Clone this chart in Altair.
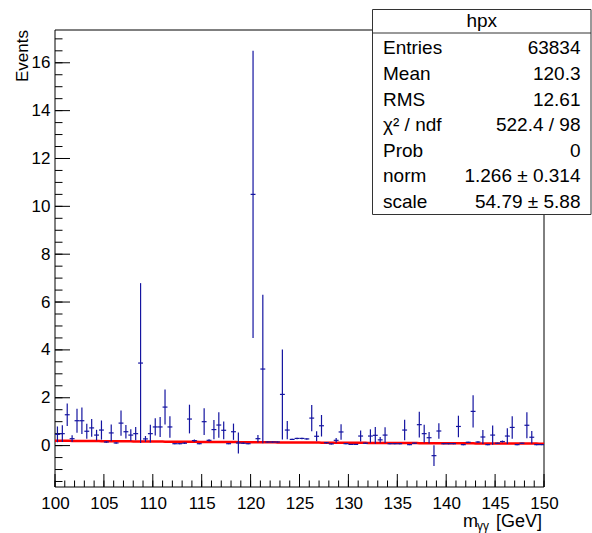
import altair as alt
import numpy as np
import pandas as pd

# ---------------------------------------------------------------------------
# Histogram "hpx": 100 bins of 0.5 GeV between 100 and 150 GeV
# ---------------------------------------------------------------------------
bin_centers = [100.25 + 0.5 * i for i in range(100)]

bin_values = [
    0.47, 0.50, 1.29, 0.29, 1.04, 1.04, 0.60, 0.74, 0.44, 0.65,
    0.15, 0.53, 0.11, 0.94, 0.58, 0.44, 0.50, 3.45, 0.28, 0.50,
    0.78, 0.78, 1.61, 0.78, 0.08, 0.08, 0.10, 1.11, 0.21, 0.08,
    1.00, 0.22, 0.67, 0.86, 0.64, 0.08, 0.58, 0.11, 0.10, 0.08,
    10.50, 0.29, 3.20, 0.15, 0.15, 0.15, 2.14, 0.65, 0.26, 0.30,
    0.30, 0.28, 1.15, 0.39, 0.83, 0.12, 0.07, 0.22, 0.57, 0.08,
    0.05, 0.05, 0.40, 0.10, 0.40, 0.43, 0.24, 0.44, 0.08, 0.08,
    0.08, 0.65, 0.04, 0.10, 0.875, 0.50, 0.33, -0.42, 0.61, 0.08,
    0.08, 0.08, 0.80, 0.04, 0.14, 1.43, 0.15, 0.36, 0.04, 0.44,
    0.10, 0.17, 0.40, 0.76, 0.04, 0.10, 0.85, 0.35, 0.04, 0.04,
]

bin_errors = [
    0.33, 0.35, 0.47, 0.14, 0.50, 0.55, 0.31, 0.37, 0.22, 0.40,
    0.03, 0.35, 0.03, 0.53, 0.28, 0.24, 0.28, 3.34, 0.12, 0.37,
    0.36, 0.42, 0.73, 0.45, 0.02, 0.02, 0.03, 0.60, 0.05, 0.02,
    0.56, 0.05, 0.40, 0.53, 0.37, 0.02, 0.34, 0.44, 0.03, 0.02,
    6.00, 0.15, 3.10, 0.02, 0.02, 0.02, 1.88, 0.38, 0.03, 0.03,
    0.03, 0.03, 0.55, 0.21, 0.45, 0.03, 0.02, 0.10, 0.32, 0.02,
    0.02, 0.02, 0.23, 0.02, 0.28, 0.35, 0.12, 0.33, 0.02, 0.02,
    0.02, 0.43, 0.02, 0.02, 0.54, 0.37, 0.24, 0.43, 0.32, 0.02,
    0.02, 0.02, 0.45, 0.02, 0.02, 0.67, 0.03, 0.29, 0.02, 0.40,
    0.02, 0.04, 0.33, 0.47, 0.02, 0.02, 0.54, 0.26, 0.02, 0.02,
]

# Fit result: norm * exp(-x / scale)
fit_norm = 1.266
fit_scale = 54.79

# Statistics box
stat_title = "hpx"
stat_names = ["Entries", "Mean", "RMS", "χ² / ndf", "Prob", "norm", "scale"]
stat_values = ["63834", "120.3", "12.61", "522.4 / 98", "0",
               "1.266 ± 0.314", "54.79 ± 5.88"]

# Axis ticks
x_major = [100, 105, 110, 115, 120, 125, 130, 135, 140, 145, 150]
x_minor = list(range(100, 151))
y_major = [0, 2, 4, 6, 8, 10, 12, 14, 16]
y_minor = [v / 2 for v in range(-3, 35)]

# ---------------------------------------------------------------------------
W, H = 489, 457
FONT = "Liberation Sans"
BLUE = "#1414a0"
RED = "#ff0000"

x_scale = alt.Scale(domain=[100, 150], nice=False, zero=False)
y_scale = alt.Scale(domain=[-1.73, 17.37], nice=False, zero=False)

x_axis = alt.Axis(values=x_major, title=None, ticks=False, domain=False, grid=False,
                  labelFont=FONT, labelFontSize=17, labelColor="black",
                  labelPadding=8, labelFlush=False, labelOverlap=False)
y_axis = alt.Axis(values=y_major, title=None, ticks=False, domain=False, grid=False,
                  labelFont=FONT, labelFontSize=17, labelColor="black",
                  labelPadding=5, labelFlush=False, labelOverlap=False)

hist = pd.DataFrame({"x": bin_centers, "v": bin_values, "e": bin_errors})

fx = np.linspace(100, 150, 201)
fit = pd.DataFrame({"x": fx, "y": fit_norm * np.exp(-fx / fit_scale)})

one = alt.Data(values=[{}])

# frame
frame = alt.Chart(one).mark_rect(fill=None, stroke="black", strokeWidth=1).encode(
    x=alt.value(0), x2=alt.value(W), y=alt.value(0), y2=alt.value(H))

# inward ticks
xt_major = alt.Chart(pd.DataFrame({"t": x_major})).mark_rule(color="black", strokeWidth=1).encode(
    x=alt.X("t:Q", scale=x_scale, axis=x_axis), y=alt.value(H), y2=alt.value(H - 13))
xt_minor = alt.Chart(pd.DataFrame({"t": x_minor})).mark_rule(color="black", strokeWidth=1).encode(
    x=alt.X("t:Q", scale=x_scale, axis=x_axis), y=alt.value(H), y2=alt.value(H - 6.5))
yt_major = alt.Chart(pd.DataFrame({"t": y_major})).mark_rule(color="black", strokeWidth=1).encode(
    y=alt.Y("t:Q", scale=y_scale, axis=y_axis), x=alt.value(0), x2=alt.value(15))
yt_minor = alt.Chart(pd.DataFrame({"t": y_minor})).mark_rule(color="black", strokeWidth=1).encode(
    y=alt.Y("t:Q", scale=y_scale, axis=y_axis), x=alt.value(0), x2=alt.value(7.5))

# error bars: horizontal = bin width, vertical = bin error
hbar = alt.Chart(hist).transform_calculate(
    xl="datum.x - 0.25", xr="datum.x + 0.25"
).mark_rule(color=BLUE, strokeWidth=1.2, clip=True).encode(
    x=alt.X("xl:Q", scale=x_scale, axis=x_axis), x2="xr:Q",
    y=alt.Y("v:Q", scale=y_scale, axis=y_axis))
vbar = alt.Chart(hist).transform_calculate(
    lo="datum.v - datum.e", hi="datum.v + datum.e"
).mark_rule(color=BLUE, strokeWidth=1.2, clip=True).encode(
    x=alt.X("x:Q", scale=x_scale, axis=x_axis),
    y=alt.Y("lo:Q", scale=y_scale, axis=y_axis), y2="hi:Q")

fit_line = alt.Chart(fit).mark_line(color=RED, strokeWidth=2.5, clip=True).encode(
    x=alt.X("x:Q", scale=x_scale, axis=x_axis),
    y=alt.Y("y:Q", scale=y_scale, axis=y_axis))

# axis titles
ytitle = alt.Chart(one).mark_text(text="Events", font=FONT, fontSize=17, angle=270,
                                  align="right", baseline="alphabetic", color="black").encode(
    x=alt.value(-27.5), y=alt.value(0))
xt_m = alt.Chart(one).mark_text(text="m", font=FONT, fontSize=18, align="left",
                                baseline="alphabetic", color="black").encode(
    x=alt.value(408), y=alt.value(496.5))
xt_g = alt.Chart(one).mark_text(text="γγ", font=FONT, fontSize=12, align="left",
                                baseline="alphabetic", color="black").encode(
    x=alt.value(422), y=alt.value(500))
xt_u = alt.Chart(one).mark_text(text="[GeV]", font=FONT, fontSize=18, align="right",
                                baseline="alphabetic", color="black").encode(
    x=alt.value(487), y=alt.value(496.5))

# statistics box
BX0, BX1, BY0, BY1 = 317.5, 536, -20.5, 184.5
box = alt.Chart(one).mark_rect(fill="white", stroke="#333333", strokeWidth=1, clip=False).encode(
    x=alt.value(BX0), x2=alt.value(BX1), y=alt.value(BY0), y2=alt.value(BY1))
box_sep = alt.Chart(one).mark_rule(color="#333333", strokeWidth=1, clip=False).encode(
    x=alt.value(BX0), x2=alt.value(BX1), y=alt.value(3))
box_head = alt.Chart(one).mark_text(text=stat_title, font=FONT, fontSize=19, align="center",
                                    baseline="middle", color="black").encode(
    x=alt.value((BX0 + BX1) / 2), y=alt.value(-9))

stat_layers = []
for i, (name, val) in enumerate(zip(stat_names, stat_values)):
    row_y = 18.3 + 25.6 * i
    stat_layers.append(
        alt.Chart(one).mark_text(text=name, font=FONT, fontSize=19, align="left",
                                 baseline="middle", color="black").encode(
            x=alt.value(328), y=alt.value(row_y)))
    stat_layers.append(
        alt.Chart(one).mark_text(text=val, font=FONT, fontSize=19, align="right",
                                 baseline="middle", color="black").encode(
            x=alt.value(525.5), y=alt.value(row_y)))

chart = alt.layer(
    frame, xt_minor, xt_major, yt_minor, yt_major,
    fit_line, vbar, hbar,
    ytitle, xt_m, xt_g, xt_u,
    box, box_sep, box_head, *stat_layers,
).properties(
    width=W, height=H,
    autosize="none",
    padding={"left": 55, "top": 30, "right": 48, "bottom": 46},
    background="white",
).configure_view(stroke=None)

chart.save("out.html", embed_options={"renderer": "svg", "actions": False})
